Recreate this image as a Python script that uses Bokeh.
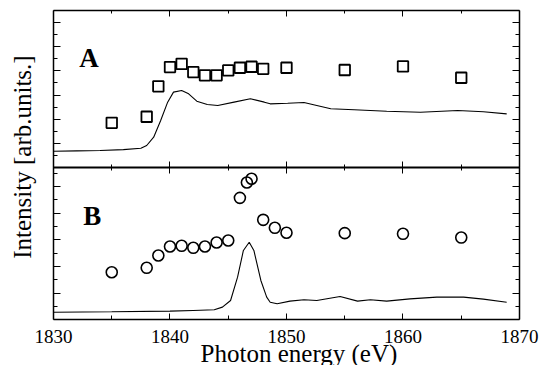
from bokeh.plotting import figure
from bokeh.models import Range1d, LinearAxis, FixedTicker, Label
from bokeh.embed import file_html
from bokeh.resources import INLINE

# ---------------- data ----------------
# Panel A: points (squares) and spectrum (line)
sq_energy = [1835, 1838, 1839, 1840, 1841, 1842, 1843, 1844, 1845, 1846, 1847, 1848, 1850, 1855, 1860, 1865]
sq_intensity = [3.7, 4.2, 6.72, 8.31, 8.58, 7.9, 7.63, 7.63, 8.04, 8.26, 8.34, 8.17, 8.26, 8.07, 8.37, 7.43]

a_energy = [1830.0, 1832.0, 1834.0, 1836.0, 1837.5, 1838.0, 1838.6, 1839.2, 1839.8, 1840.3, 1841.0,
            1841.6, 1842.3, 1843.2, 1844.1, 1845.5, 1846.9, 1848.1, 1848.6, 1850.1, 1851.5, 1852.6,
            1853.8, 1855.8, 1858.6, 1861.5, 1864.7, 1866.9, 1868.9]
a_intensity = [1.35, 1.38, 1.41, 1.48, 1.6, 1.82, 2.51, 3.89, 5.41, 6.24, 6.38,
               6.1, 5.49, 5.22, 5.13, 5.41, 5.69, 5.41, 5.27, 5.32, 5.38, 5.13,
               4.86, 4.78, 4.66, 4.58, 4.72, 4.61, 4.44]

# Panel B: points (circles) and spectrum (line)
ci_energy = [1835, 1838, 1839, 1840, 1841, 1842, 1843, 1844, 1845, 1846, 1846.6, 1847, 1848, 1849, 1850, 1855, 1860, 1865]
ci_intensity = [3.57, 3.9, 4.82, 5.5, 5.55, 5.4, 5.5, 5.8, 5.95, 9.15, 10.3, 10.58, 7.5, 6.9, 6.53, 6.5, 6.45, 6.17]

b_energy = [1830.0, 1835.0, 1840.0, 1842.0, 1843.8, 1844.5, 1845.2, 1845.8, 1846.3, 1846.8, 1847.2,
            1847.8, 1848.3, 1848.6, 1849.2, 1850.3, 1851.5, 1852.6, 1854.6, 1856.1, 1857.2, 1858.6,
            1860.6, 1862.9, 1865.2, 1866.9, 1868.9]
b_intensity = [0.57, 0.6, 0.65, 0.7, 0.75, 0.95, 1.45, 3.2, 5.2, 5.82, 5.2,
               2.95, 1.7, 1.32, 1.2, 1.4, 1.5, 1.45, 1.75, 1.4, 1.5, 1.4,
               1.57, 1.7, 1.7, 1.55, 1.32]

x_ticks = [1830, 1840, 1850, 1860, 1870]
x_minor = [1835, 1845, 1855, 1865]
x_tick_labels = {1830: "1830", 1840: "1840", 1850: "1850", 1860: "1860", 1870: "1870"}

top_ticks = [2, 4, 6, 8, 10, 12]
top_minor = [1, 3, 5, 7, 9, 11]
bot_ticks = [2, 4, 6, 8, 10]
bot_minor = [1, 3, 5, 7, 9, 11]

x_title = "Photon energy (eV)"
y_title = "Intensity [arb.units.]"

# ---------------- layout ----------------
FONT = "Liberation Serif"
X0, X1 = 1830, 1870          # plotted energy window (panel borders)
BOT_TOP = 11.4               # top of panel B in panel-B units
BOT_END = 23.18              # top of panel A in panel-B units
TOP_END = 13.0               # top of panel A in panel-A units

# the frame covers the whole canvas; panel borders are drawn by fixed axes
p = figure(width=539, height=365, output_backend="svg", toolbar_location=None,
           x_range=Range1d(1825.451, 1871.717), y_range=Range1d(-3.428, 23.953),
           x_axis_type=None, y_axis_type=None,
           min_border_left=0, min_border_right=0, min_border_top=0, min_border_bottom=0)
p.extra_y_ranges = {"top": Range1d(-16.39, 13.825)}
p.outline_line_color = None
p.background_fill_color = "white"
p.border_fill_color = "white"


def hide_labels(ax):
    ax.major_label_text_color = None


# bottom border with ticks and tick labels
bx = LinearAxis(fixed_location=0, bounds=(X0, X1),
                ticker=FixedTicker(ticks=x_ticks, minor_ticks=x_minor),
                major_label_overrides=x_tick_labels,
                major_tick_in=6, major_tick_out=0, minor_tick_in=4, minor_tick_out=0,
                major_label_text_font=FONT, major_label_text_font_size="19px",
                major_label_text_color="black", major_label_standoff=10,
                axis_line_width=1.5, axis_line_color="black")
p.add_layout(bx, "below")

# middle border between the panels
mx = LinearAxis(fixed_location=BOT_TOP, bounds=(X0, X1),
                ticker=FixedTicker(ticks=x_ticks, minor_ticks=x_minor),
                major_tick_in=6, major_tick_out=6, minor_tick_in=3, minor_tick_out=3,
                axis_line_width=2)
hide_labels(mx)
p.add_layout(mx, "below")

# top border
tx = LinearAxis(fixed_location=BOT_END, bounds=(X0, X1),
                ticker=FixedTicker(ticks=x_ticks, minor_ticks=x_minor),
                major_tick_in=6, major_tick_out=0, minor_tick_in=3, minor_tick_out=0,
                axis_line_width=1.5)
hide_labels(tx)
p.add_layout(tx, "above")

# left / right borders (ticks only)
for side, loc in (("left", X0), ("right", X1)):
    for rname, tk, mn, bnd in (("default", bot_ticks, bot_minor, (0, BOT_TOP)),
                               ("top", top_ticks, top_minor, (0, TOP_END))):
        ax = LinearAxis(y_range_name=rname, fixed_location=loc, bounds=bnd,
                        ticker=FixedTicker(ticks=tk, minor_ticks=mn),
                        major_tick_in=7, major_tick_out=0, minor_tick_in=4, minor_tick_out=0,
                        axis_line_width=1.5)
        hide_labels(ax)
        p.add_layout(ax, side)

# data
p.line(a_energy, a_intensity, y_range_name="top", line_color="black", line_width=1.1)
p.scatter(sq_energy, sq_intensity, y_range_name="top", marker="square", size=10.5,
          fill_color=None, line_color="black", line_width=1.8)
p.line(b_energy, b_intensity, line_color="black", line_width=1.1)
p.scatter(ci_energy, ci_intensity, marker="circle", size=11,
          fill_color=None, line_color="black", line_width=1.6)

# panel letters
p.add_layout(Label(x=1832.2, y=9.1, y_range_name="top", text="A", text_font=FONT,
                   text_font_style="bold", text_font_size="27px", text_color="black",
                   text_align="left", text_baseline="alphabetic"))
p.add_layout(Label(x=1832.55, y=7.82, text="B", text_font=FONT,
                   text_font_style="bold", text_font_size="27px", text_color="black",
                   text_align="left", text_baseline="alphabetic"))

# axis titles
p.add_layout(Label(x=1827.3, y=12.21, text=y_title, text_font=FONT,
                   text_font_size="25px", text_color="black", angle=90, angle_units="deg",
                   text_align="center", text_baseline="middle"))
p.add_layout(Label(x=1851.07, y=-2.5, text=x_title, text_font=FONT,
                   text_font_size="25px", text_color="black",
                   text_align="center", text_baseline="alphabetic"))

open("out.html", "w").write(file_html(p, INLINE))
